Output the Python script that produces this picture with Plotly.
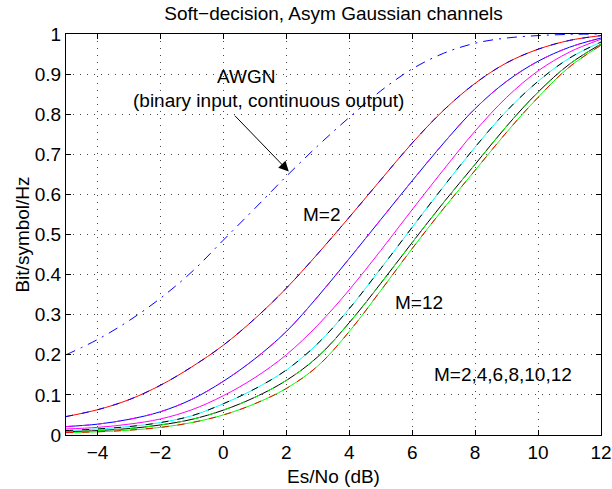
import plotly.graph_objects as go

# ---------------- data ----------------
es_no_db = [-5, -4, -3, -2, -1, 0, 1, 2, 3, 4, 5, 6, 7, 8, 9, 10, 11, 12]

awgn_binary = [0.200, 0.238, 0.285, 0.341, 0.407, 0.486, 0.565, 0.645, 0.721,
               0.792, 0.858, 0.913, 0.952, 0.977, 0.990, 0.996, 0.999, 1.000]

cap_m2 = [0.046, 0.063, 0.088, 0.124, 0.170, 0.224, 0.290, 0.366, 0.452,
          0.543, 0.636, 0.728, 0.810, 0.877, 0.928, 0.962, 0.984, 0.996]
cap_m4 = [0.021, 0.027, 0.039, 0.058, 0.089, 0.134, 0.190, 0.258, 0.345,
          0.440, 0.537, 0.634, 0.728, 0.814, 0.882, 0.932, 0.967, 0.990]
cap_m6 = [0.015, 0.019, 0.027, 0.040, 0.063, 0.098, 0.143, 0.200, 0.274,
          0.362, 0.460, 0.562, 0.662, 0.758, 0.842, 0.908, 0.955, 0.987]
cap_m8 = [0.011, 0.015, 0.021, 0.031, 0.048, 0.078, 0.115, 0.162, 0.228,
          0.315, 0.415, 0.518, 0.620, 0.718, 0.808, 0.882, 0.940, 0.980]
cap_m10 = [0.008, 0.011, 0.016, 0.025, 0.039, 0.062, 0.094, 0.136, 0.195,
           0.280, 0.378, 0.480, 0.580, 0.675, 0.770, 0.855, 0.925, 0.975]
cap_m12 = [0.006, 0.008, 0.012, 0.019, 0.031, 0.050, 0.078, 0.116, 0.172,
           0.258, 0.360, 0.465, 0.565, 0.660, 0.755, 0.842, 0.918, 0.972]

x_ticks = [-4, -2, 0, 2, 4, 6, 8, 10, 12]
y_ticks = [0, 0.1, 0.2, 0.3, 0.4, 0.5, 0.6, 0.7, 0.8, 0.9, 1]

# ---------------- styles ----------------
FONT = "Liberation Sans, Arial, Helvetica, sans-serif"
FS = 19
series = [
    (cap_m2, "#ff0000", "#0000ff"),
    (cap_m4, "#0000ff", "#ff00ff"),
    (cap_m6, "#ff00ff", None),
    (cap_m8, "#00ffff", "#000000"),
    (cap_m10, "#000000", "#00ff00"),
    (cap_m12, "#00ff00", "#ff0000"),
]

fig = go.Figure()

fig.add_trace(go.Scatter(
    x=es_no_db, y=awgn_binary, mode="lines",
    line=dict(color="#0000ff", width=1, dash="10px,6px,2px,6px", shape="spline"),
    showlegend=False))

for vals, solid, dashed in series:
    fig.add_trace(go.Scatter(
        x=es_no_db, y=vals, mode="lines",
        line=dict(color=solid, width=1, shape="spline"), showlegend=False))
    if dashed:
        fig.add_trace(go.Scatter(
            x=es_no_db, y=vals, mode="lines",
            line=dict(color=dashed, width=1, dash="7px,9px", shape="spline"),
            showlegend=False))

axis_common = dict(
    showline=True, linecolor="black", linewidth=1, mirror="ticks",
    ticks="inside", ticklen=5, tickcolor="black", tickwidth=1,
    showgrid=True, gridcolor="#444444", gridwidth=1, griddash="1px,6px",
    zeroline=False, automargin=False,
    tickfont=dict(family=FONT, size=FS, color="black"),
)

fig.update_xaxes(range=[-5, 12], tickvals=x_ticks,
                 title=dict(text="Es/No (dB)", font=dict(family=FONT, size=FS, color="black"),
                            standoff=7),
                 **axis_common)
fig.update_yaxes(range=[0, 1], tickvals=y_ticks,
                 title=dict(text="Bit/symbol/Hz", font=dict(family=FONT, size=FS, color="black"),
                            standoff=0),
                 **axis_common)

def label(text, x, y, **kw):
    fig.add_annotation(x=x, y=y, xref="x", yref="y", text=text, showarrow=False,
                       font=dict(family=FONT, size=FS, color="black"), **kw)

label("AWGN", 0.72, 0.894)
label("(binary input, continuous output)", 1.42, 0.835)
label("M=2", 3.15, 0.549)
label("M=12", 6.22, 0.33)
label("M=2,4,6,8,10,12", 8.87, 0.15)

fig.add_annotation(x=2.08, y=0.657, ax=0.32, ay=0.80, xref="x", yref="y",
                   axref="x", ayref="y", text="", showarrow=True,
                   arrowhead=2, arrowsize=2, arrowwidth=1, arrowcolor="black")

fig.update_layout(
    width=612, height=489,
    margin=dict(l=66, r=11, t=34, b=54),
    paper_bgcolor="white", plot_bgcolor="white",
    title=dict(text="Soft\u2212decision, Asym Gaussian channels",
               x=(66 + 601) / 2 / 612, xanchor="center", xref="container",
               y=1 - 13 / 489, yanchor="middle", yref="container",
               font=dict(family=FONT, size=FS, color="black")),
    font=dict(family=FONT, size=FS, color="black"),
)

fig.write_html("out.html")
